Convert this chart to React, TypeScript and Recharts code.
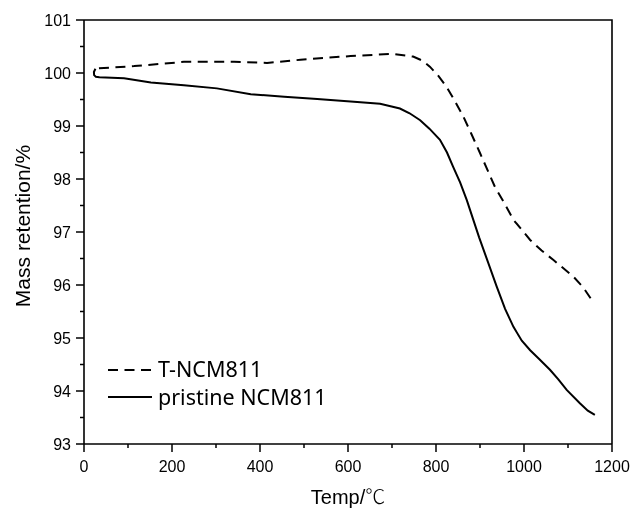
import React from 'react';
import { LineChart, Line, XAxis, YAxis, Customized } from 'recharts';

const pristineTemp = [26, 22.5, 23, 27, 35, 91, 152, 227, 302, 379, 455, 530, 606, 673, 718, 740, 764, 785, 809, 825, 839, 855, 870, 898, 938, 957, 976, 995, 1014, 1035, 1059, 1078, 1097, 1127, 1145, 1161];
const pristineMass = [100.08, 100.02, 99.96, 99.93, 99.92, 99.90, 99.82, 99.77, 99.71, 99.60, 99.55, 99.51, 99.46, 99.42, 99.33, 99.24, 99.11, 98.95, 98.74, 98.50, 98.23, 97.93, 97.60, 96.90, 95.97, 95.55, 95.21, 94.95, 94.77, 94.60, 94.40, 94.22, 94.02, 93.77, 93.63, 93.55];

const tncmTemp = [34, 114, 227, 341, 416, 492, 606, 700, 748, 770, 786, 805, 824, 843, 862, 881, 900, 934, 955, 976, 1014, 1040, 1067, 1112, 1135, 1157];
const tncmMass = [100.09, 100.13, 100.21, 100.21, 100.19, 100.25, 100.32, 100.36, 100.31, 100.23, 100.12, 99.95, 99.74, 99.47, 99.18, 98.84, 98.49, 97.85, 97.55, 97.23, 96.85, 96.65, 96.47, 96.16, 95.95, 95.68];

const seriesNames = ['T-NCM811', 'pristine NCM811'];
const xTicks = [0, 100, 200, 300, 400, 500, 600, 700, 800, 900, 1000, 1100, 1200];
const yTicks = [93, 93.5, 94, 94.5, 95, 95.5, 96, 96.5, 97, 97.5, 98, 98.5, 99, 99.5, 100, 100.5, 101];
const xTitle = 'Temp/';
const xUnit = '℃';
const yTitle = 'Mass retention/%';

const pristineData = pristineTemp.map((t, i) => ({ t, m: pristineMass[i] }));
const tncmData = tncmTemp.map((t, i) => ({ t, m: tncmMass[i] }));

const tickFont = '"Liberation Sans", Arial, sans-serif';

const PL = 76, PR = 604, PT = 12, PB = 436;

const YTick = (props: any) => {
  const { x, y, payload } = props;
  const major = Number.isInteger(payload.value);
  return (
    <g>
      <line x1={x} x2={x - (major ? 8 : 4)} y1={y} y2={y} stroke="#000" strokeWidth={1.5} />
      {major && (
        <text x={x - 13} y={y} dy="0.35em" textAnchor="end" fontSize={16} fontFamily={tickFont} fill="#000">
          {payload.value}
        </text>
      )}
    </g>
  );
};

const XTick = (props: any) => {
  const { x, y, payload } = props;
  const major = payload.value % 200 === 0;
  return (
    <g>
      <line x1={x} x2={x} y1={y} y2={y + (major ? 8 : 4)} stroke="#000" strokeWidth={1.5} />
      {major && (
        <text x={x} y={y + 28} textAnchor="middle" fontSize={16} fontFamily={tickFont} fill="#000">
          {payload.value}
        </text>
      )}
    </g>
  );
};

const Decorations = () => (
  <g>
    <path d={`M${PL},${PT}H${PR}V${PB}`} fill="none" stroke="#000" strokeWidth={1.6} />
    <text
      transform="translate(15,218) rotate(-90)"
      textAnchor="middle"
      dy="0.35em"
      fontSize={21}
      fontFamily={tickFont}
      fill="#000"
    >
      {yTitle}
    </text>
    <text x={340} y={496} textAnchor="middle" fontSize={20} fontFamily={tickFont} fill="#000">
      {xTitle}
      <tspan fontFamily='"Noto Sans CJK SC", sans-serif' fontWeight={300}>{xUnit}</tspan>
    </text>
    <g fontFamily='"Noto Sans", "Open Sans", sans-serif' fontSize={21.5} fill="#000">
      <line x1={100} x2={144} y1={362} y2={362} stroke="#000" strokeWidth={2} strokeDasharray="10 6.5" />
      <text x={150} y={369}>{seriesNames[0]}</text>
      <line x1={100} x2={144} y1={389} y2={389} stroke="#000" strokeWidth={2} />
      <text x={150} y={397}>{seriesNames[1]}</text>
    </g>
  </g>
);

export default function App() {
  return (
    <div style={{ position: 'fixed', left: 8, top: 8, width: 624, height: 503 }}>
      <LineChart width={624} height={503} margin={{ top: 12, right: 20, left: 16, bottom: 27 }}>
        <XAxis
          xAxisId="main"
          type="number"
          dataKey="t"
          domain={[0, 1200]}
          ticks={xTicks}
          interval={0}
          allowDataOverflow
          tickSize={0}
          tickMargin={0}
          tickLine={false}
          tick={<XTick />}
          height={40}
          axisLine={{ stroke: '#000', strokeWidth: 1.6 }}
        />
        <YAxis
          yAxisId="main"
          type="number"
          domain={[93, 101]}
          ticks={yTicks}
          interval={0}
          allowDataOverflow
          tickSize={0}
          tickMargin={0}
          tickLine={false}
          tick={<YTick />}
          width={60}
          axisLine={{ stroke: '#000', strokeWidth: 1.6 }}
        />
        <Line
          xAxisId="main"
          yAxisId="main"
          data={tncmData}
          dataKey="m"
          name={seriesNames[0]}
          type="linear"
          stroke="#000"
          strokeWidth={2}
          strokeDasharray="10 6.5"
          dot={false}
          activeDot={false}
          isAnimationActive={false}
        />
        <Line
          xAxisId="main"
          yAxisId="main"
          data={pristineData}
          dataKey="m"
          name={seriesNames[1]}
          type="linear"
          stroke="#000"
          strokeWidth={2}
          dot={false}
          activeDot={false}
          isAnimationActive={false}
        />
        <Customized component={Decorations} />
      </LineChart>
    </div>
  );
}
